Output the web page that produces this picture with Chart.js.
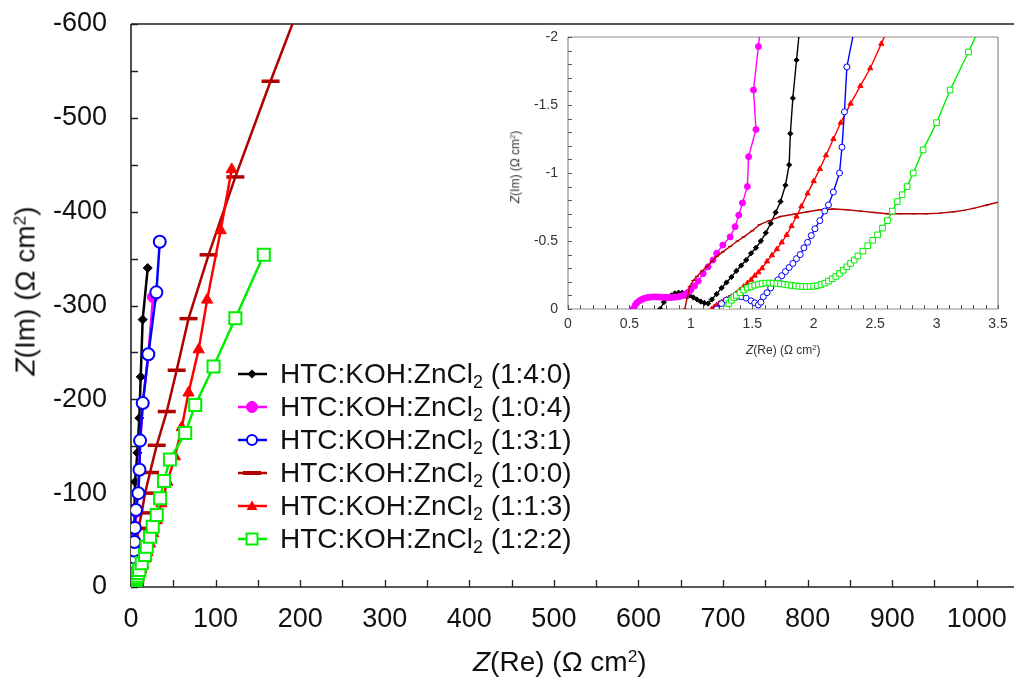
<!DOCTYPE html>
<html>
<head>
<meta charset="utf-8">
<script src="https://cdn.jsdelivr.net/npm/chart.js@4.4.1/dist/chart.umd.min.js"></script>
<style>
  html, body { margin: 0; padding: 0; background: #fff; }
  #wrap { position: relative; width: 1014px; height: 681px; overflow: hidden;
          font-family: "Liberation Sans", Arial, sans-serif; color: #111; }
  #main { position: absolute; left: 0; top: 0; }
  #inset { position: absolute; left: 495px; top: 27px; }
  .ttl { position: absolute; white-space: nowrap; transform-origin: center center; line-height: 1; }
  .ttl sup { font-size: 0.62em; vertical-align: baseline; position: relative; top: -0.5em; }
  #legend { position: absolute; left: 236px; top: 357px; font-size: 28px; }
  .row { height: 33px; display: flex; align-items: center; white-space: nowrap; }
  .row svg { width: 32px; height: 20px; margin-right: 12px; }
  .row sub { font-size: 0.64em; vertical-align: baseline; position: relative; top: 0.3em; }
</style>
</head>
<body>
<div id="wrap">
  <canvas id="main" width="1014" height="681"></canvas>
  <canvas id="inset" width="519" height="310"></canvas>
  <div class="ttl" id="ytitle" style="font-size:28px"><i>Z</i>(Im) (Ω cm<sup>2</sup>)</div>
  <div class="ttl" id="xtitle" style="font-size:28px"><i>Z</i>(Re) (Ω cm<sup>2</sup>)</div>
  <div class="ttl" id="iytitle" style="font-size:12px;color:#333"><i>Z</i>(Im) (Ω cm<sup>2</sup>)</div>
  <div class="ttl" id="ixtitle" style="font-size:12px;color:#333"><i>Z</i>(Re) (Ω cm<sup>2</sup>)</div>
  <div id="legend"></div>
</div>
<script>
// ---- data: Z(Re) and Z(Im) per sample, high frequency first ----
const re140 = [0.75, 0.78, 0.81, 0.84, 0.87, 0.90, 0.93, 0.96, 0.99, 1.02, 1.05, 1.08, 1.11, 1.14, 1.17,
  1.21, 1.25, 1.29, 1.33, 1.37, 1.41, 1.45, 1.49, 1.53, 1.57, 1.61, 1.65, 1.69, 1.73, 1.77,
  1.80, 1.81, 1.83, 1.86, 1.89,
  1.95, 2.05, 2.2, 2.4, 2.6, 2.8, 3.0, 3.2, 3.4, 3.6, 3.8, 4.0, 4.2, 4.4, 4.6, 4.8,
  7.5, 9.8, 11.5, 13.8, 19.8];
const im140 = [0, -0.05, -0.08, -0.10, -0.115, -0.12, -0.12, -0.11, -0.10, -0.085, -0.07, -0.055, -0.045, -0.04, -0.07,
  -0.11, -0.155, -0.195, -0.235, -0.28, -0.32, -0.36, -0.41, -0.45, -0.50, -0.56, -0.63, -0.71, -0.79, -0.91,
  -1.06, -1.29, -1.55, -1.83, -2.1,
  -2.6, -3.3, -4.3, -5.6, -7.2, -9.3, -12, -15.5, -20, -26, -33, -42, -53, -67, -85, -112,
  -143, -180, -224, -285, -340];

const re104 = [0.53, 0.545, 0.56, 0.58, 0.60, 0.62, 0.64, 0.66, 0.68, 0.70, 0.72, 0.74, 0.76, 0.78, 0.80,
  0.82, 0.84, 0.86, 0.88, 0.90, 0.92, 0.94, 0.96, 0.98, 1.00,
  1.03, 1.06, 1.10, 1.14, 1.18, 1.21, 1.26, 1.32, 1.36, 1.39, 1.42, 1.46, 1.47, 1.53, 1.51, 1.55,
  1.60, 1.70, 1.80, 1.90, 2.0,
  2.15, 2.3, 2.5, 2.7, 3.0, 3.3, 3.7, 4.3, 5.0, 6.0, 7.5, 9.5, 11, 14, 20.5, 26];
const im104 = [0, -0.025, -0.045, -0.06, -0.07, -0.078, -0.083, -0.086, -0.088, -0.089, -0.089, -0.088, -0.087, -0.086, -0.085,
  -0.085, -0.085, -0.086, -0.088, -0.09, -0.095, -0.10, -0.11, -0.125, -0.14,
  -0.17, -0.205, -0.26, -0.31, -0.36, -0.41, -0.47, -0.53, -0.605, -0.69, -0.78, -0.90, -1.12, -1.32, -1.61, -1.93,
  -2.4, -3.0, -3.8, -4.8, -6,
  -7.6, -9.6, -12.5, -17, -23, -30, -40, -50, -64, -80, -100, -125, -156, -196, -247, -309];

const re131 = [1.21, 1.25, 1.29, 1.33, 1.37, 1.41, 1.45, 1.49, 1.52, 1.55, 1.57, 1.59, 1.62, 1.65, 1.68,
  1.71, 1.74, 1.77, 1.80, 1.83, 1.86, 1.89, 1.92, 1.95, 1.98, 2.01, 2.05, 2.09, 2.12, 2.16,
  2.21, 2.23, 2.25, 2.27, 2.34,
  2.45, 2.55, 2.65, 2.75, 2.85, 2.95, 3.05, 3.15, 3.3, 3.45, 3.6, 3.8, 4.1, 4.6, 5.9,
  8.7, 10, 10.7, 13.9, 20.5, 30, 34];
const im131 = [0, -0.04, -0.065, -0.08, -0.09, -0.09, -0.08, -0.06, -0.045, -0.03, -0.05, -0.09, -0.12, -0.155, -0.19,
  -0.215, -0.245, -0.275, -0.305, -0.335, -0.37, -0.40, -0.45, -0.49, -0.54, -0.59, -0.65, -0.72, -0.765, -0.86,
  -1.0, -1.19, -1.45, -1.78, -2.1,
  -2.6, -3.4, -4.4, -5.7, -7.3, -9.4, -12, -15.4, -19.7, -25, -31.5, -39, -48, -63, -82,
  -100, -125, -156, -196, -248, -314, -368];

const re100 = [0.95, 0.97, 0.99, 1.02, 1.05, 1.09, 1.13, 1.17, 1.21, 1.26, 1.32, 1.38, 1.43, 1.50, 1.56,
  1.64, 1.73, 1.86, 1.95, 2.05, 2.16, 2.27, 2.38, 2.49, 2.60, 2.70, 2.81, 2.92, 3.03, 3.14,
  3.22, 3.30, 3.41, 3.52,
  3.8, 4.1, 4.4, 4.7, 5.0, 5.3, 5.6, 5.9, 6.3, 6.6, 6.8,
  8.7, 12.7, 16.6, 22.5, 30.4, 42.3, 54, 68, 91.7, 123.4, 165, 215];
const im100 = [0, -0.08, -0.165, -0.21, -0.24, -0.28, -0.31, -0.35, -0.385, -0.42, -0.46, -0.50, -0.53, -0.575, -0.62,
  -0.65, -0.68, -0.70, -0.715, -0.73, -0.735, -0.73, -0.72, -0.71, -0.70, -0.70, -0.70, -0.70, -0.705, -0.715,
  -0.725, -0.74, -0.765, -0.79,
  -0.9, -1.3, -2.0, -3.2, -5, -8, -12.5, -19, -27, -36, -46.6,
  -62.5, -79, -100, -122, -151, -187, -231, -286, -354, -437, -539, -657];

const re113 = [1.17, 1.19, 1.21, 1.23, 1.25, 1.27, 1.29, 1.31, 1.33, 1.35, 1.37,
  1.40, 1.43, 1.46, 1.49, 1.52, 1.55, 1.58, 1.62, 1.66, 1.70, 1.74, 1.78, 1.82, 1.86, 1.90,
  1.95, 2.00, 2.05, 2.10, 2.16, 2.22, 2.30, 2.38, 2.46, 2.55, 2.65,
  3.2, 3.9, 4.7, 5.6, 6.6, 7.8, 9.1, 10.6, 12.3, 14.3, 16.6, 19.3, 22.5, 26.3, 30.6, 36, 43, 52, 60, 68,
  80, 90, 106, 119];
const im113 = [0, -0.015, -0.028, -0.04, -0.05, -0.06, -0.07, -0.08, -0.09, -0.10, -0.115,
  -0.14, -0.165, -0.19, -0.215, -0.245, -0.27, -0.30, -0.35, -0.395, -0.44, -0.49, -0.545, -0.61, -0.68, -0.755,
  -0.85, -0.94, -1.03, -1.13, -1.25, -1.37, -1.51, -1.64, -1.77, -1.95, -2.15,
  -2.8, -3.6, -4.6, -5.9, -7.5, -9.5, -12, -15, -19, -24, -30, -37, -46, -57, -71, -89, -112, -139, -170, -207,
  -253, -306, -380, -445];

const re122 = [1.29, 1.31, 1.33, 1.35, 1.37, 1.40, 1.43, 1.46, 1.49, 1.52, 1.55, 1.58, 1.61, 1.64, 1.67,
  1.70, 1.73, 1.76, 1.79, 1.82, 1.85, 1.88, 1.91, 1.94, 1.97, 2.00, 2.03, 2.06, 2.09, 2.12,
  2.15, 2.18, 2.21, 2.24, 2.27, 2.30, 2.33, 2.36, 2.40, 2.44, 2.48, 2.52, 2.56, 2.60, 2.64,
  2.68, 2.72, 2.76, 2.81, 2.89, 3.00, 3.11, 3.26, 3.42,
  3.7, 4.0, 4.4, 4.9, 5.5, 6.2, 7.0, 8.3, 9.8, 12.7, 16.6, 18.6, 22.5, 25.7, 30.4, 34.4, 39, 46,
  64.1, 75.9, 97.6, 123.4, 157];
const im122 = [0, -0.04, -0.065, -0.085, -0.10, -0.12, -0.14, -0.155, -0.165, -0.175, -0.182, -0.187, -0.19, -0.191, -0.19,
  -0.188, -0.185, -0.181, -0.177, -0.173, -0.17, -0.167, -0.166, -0.165, -0.166, -0.168, -0.172, -0.18, -0.19, -0.205,
  -0.222, -0.24, -0.262, -0.285, -0.31, -0.335, -0.36, -0.39, -0.425, -0.465, -0.505, -0.545, -0.595, -0.65, -0.72,
  -0.79, -0.84, -0.90, -1.0, -1.17, -1.37, -1.61, -1.89, -2.2,
  -2.8, -3.6, -4.6, -5.9, -7.5, -9.5, -12, -14.8, -18.1, -25.2, -34.1, -42.9, -53.6, -64.3, -76.8, -94.6, -113, -136,
  -164, -194, -235, -286.5, -354];

// tick labels
const mainXTicks = [0, 100, 200, 300, 400, 500, 600, 700, 800, 900, 1000];
const mainYTicks = [-600, -500, -400, -300, -200, -100, 0];
const insetXTicks = [0, 0.5, 1, 1.5, 2, 2.5, 3, 3.5];
const insetYTicks = [-2, -1.5, -1, -0.5, 0];

const FONT = "'Liberation Sans', Arial, sans-serif";

// series styles (legend order)
const series = [
  { ratio: "1:4:0", re: re140, im: im140, color: "#000000", fill: "#000000", style: "rectRot",
    r: 4.5, bw: 1, ir: 2.6, ibw: 1, order: 5 },
  { ratio: "1:0:4", re: re104, im: im104, color: "#ff00ff", fill: "#ff00ff", style: "circle",
    r: 5.5, bw: 1, ir: 3, ibw: 1, order: 4 },
  { ratio: "1:3:1", re: re131, im: im131, color: "#0000ff", fill: "#ffffff", style: "circle",
    r: 6, bw: 2, ir: 3, ibw: 1, order: 1 },
  { ratio: "1:0:0", re: re100, im: im100, color: "#b00000", fill: "#b00000", style: "line",
    r: 9, bw: 3.5, ir: 2, ibw: 1.2, order: 3 },
  { ratio: "1:1:3", re: re113, im: im113, color: "#ff0000", fill: "#ff0000", style: "triangle",
    r: 6.5, bw: 1, ir: 3, ibw: 1, order: 2 },
  { ratio: "1:2:2", re: re122, im: im122, color: "#00ee00", fill: "#ffffff", style: "rect",
    r: 8.5, bw: 2, ir: 4, ibw: 1, order: 0 }
];

// frame + inward tick marks
const frameTicks = {
  id: "frameTicks",
  beforeDatasetsDraw(chart, args, o) {
    const { ctx, chartArea: a, scales } = chart;
    ctx.save();
    ctx.strokeStyle = o.color;
    ctx.lineWidth = o.width;
    ctx.beginPath();
    if (o.sides.includes("t")) { ctx.moveTo(a.left, a.top); ctx.lineTo(a.right, a.top); }
    if (o.sides.includes("r")) { ctx.moveTo(a.right, a.top); ctx.lineTo(a.right, a.bottom); }
    if (o.sides.includes("b")) { ctx.moveTo(a.left, a.bottom); ctx.lineTo(a.right, a.bottom); }
    if (o.sides.includes("l")) { ctx.moveTo(a.left, a.top); ctx.lineTo(a.left, a.bottom); }
    ctx.stroke();
    ctx.strokeStyle = o.tickColor;
    ctx.lineWidth = o.tickWidth;
    ctx.beginPath();
    for (let v = scales.x.min; v <= scales.x.max + 1e-9; v += o.xStep) {
      const px = Math.round(scales.x.getPixelForValue(v)) + 0.5;
      ctx.moveTo(px, a.bottom);
      ctx.lineTo(px, a.bottom - o.len);
    }
    for (let v = scales.y.min; v <= scales.y.max + 1e-9; v += o.yStep) {
      const py = Math.round(scales.y.getPixelForValue(v)) + 0.5;
      ctx.moveTo(a.left, py);
      ctx.lineTo(a.left + o.len, py);
    }
    ctx.stroke();
    ctx.restore();
  }
};

function makeDatasets(inset) {
  return series.map(s => ({
    label: "HTC:KOH:ZnCl2 (" + s.ratio + ")",
    data: s.re.map((x, i) => ({ x: x, y: s.im[i] })),
    showLine: true,
    borderColor: s.color,
    borderWidth: inset ? 1.4 : 2.5,
    pointStyle: s.style,
    pointRadius: inset ? s.ir : s.r,
    pointBorderWidth: inset ? s.ibw : s.bw,
    pointBorderColor: s.color,
    pointBackgroundColor: s.fill,
    order: s.order
  }));
}

function fixedTicks(list) {
  return scale => { scale.ticks = list.map(v => ({ value: v })); };
}

// pin the axis box sizes so the plot area lands where the reference has it
function fitX(h) {
  return s => { s.height = h; s.paddingLeft = 0; s.paddingRight = 0; };
}
function fitY(w) {
  return s => { s.width = w; s.paddingTop = 0; s.paddingBottom = 0; };
}
const plain = v => String(v);

new Chart(document.getElementById("main"), {
  type: "scatter",
  data: { datasets: makeDatasets(false) },
  options: {
    responsive: false,
    animation: false,
    events: [],
    layout: { autoPadding: false, padding: { top: 24, right: 0, left: 0, bottom: 0 } },
    plugins: {
      legend: { display: false },
      tooltip: { enabled: false },
      frameTicks: { sides: "tlb", color: "#222", width: 1.6, tickColor: "#222", tickWidth: 1.3,
                    len: 7, xStep: 50, yStep: 50 }
    },
    scales: {
      x: {
        type: "linear", min: 0, max: 1044,
        afterBuildTicks: fixedTicks(mainXTicks),
        afterFit: fitX(94),
        grid: { display: false, drawTicks: false },
        border: { display: false },
        ticks: { font: { family: FONT, size: 27 }, color: "#111", padding: 16, maxRotation: 0,
                 autoSkip: false, callback: plain }
      },
      y: {
        type: "linear", min: -600, max: 0, reverse: true,
        afterBuildTicks: fixedTicks(mainYTicks),
        afterFit: fitY(131),
        grid: { display: false, drawTicks: false },
        border: { display: false },
        ticks: { font: { family: FONT, size: 27 }, color: "#111", padding: 24, autoSkip: false, callback: plain }
      }
    }
  },
  plugins: [frameTicks]
});

new Chart(document.getElementById("inset"), {
  type: "scatter",
  data: { datasets: makeDatasets(true) },
  options: {
    responsive: false,
    animation: false,
    events: [],
    layout: { autoPadding: false, padding: { top: 10, right: 16, left: 0, bottom: 0 } },
    plugins: {
      legend: { display: false },
      tooltip: { enabled: false },
      frameTicks: { sides: "tlbr", color: "#8c8c8c", width: 1.2, tickColor: "#555", tickWidth: 1,
                    len: 4, xStep: 0.1, yStep: 0.1 }
    },
    scales: {
      x: {
        type: "linear", min: 0, max: 3.5,
        afterBuildTicks: fixedTicks(insetXTicks),
        afterFit: fitX(28),
        grid: { display: false, drawTicks: false },
        border: { display: false },
        ticks: { font: { family: FONT, size: 14 }, color: "#333", padding: 7, maxRotation: 0,
                 autoSkip: false, callback: plain }
      },
      y: {
        type: "linear", min: -2, max: 0, reverse: true,
        afterBuildTicks: fixedTicks(insetYTicks),
        afterFit: fitY(73),
        grid: { display: false, drawTicks: false },
        border: { display: false },
        ticks: { font: { family: FONT, size: 14 }, color: "#333", padding: 10, autoSkip: false, callback: plain }
      }
    }
  },
  plugins: [frameTicks]
});

// axis titles
function place(id, cx, cy, rot) {
  const el = document.getElementById(id);
  el.style.left = (cx - el.offsetWidth / 2) + "px";
  el.style.top = (cy - el.offsetHeight / 2) + "px";
  if (rot) el.style.transform = "rotate(-90deg)";
}
place("ytitle", 25, 291, true);
place("xtitle", 560, 662, false);
place("iytitle", 515, 167, true);
place("ixtitle", 783, 350, false);

// legend
function marker(s) {
  const c = s.color;
  let m = "";
  if (s.style === "rectRot") m = `<polygon points="16,5.5 20.5,10 16,14.5 11.5,10" fill="${c}"/>`;
  if (s.style === "circle") m = `<circle cx="16" cy="10" r="${s.bw > 1 ? 5 : 5.5}" fill="${s.fill}" stroke="${c}" stroke-width="${s.bw}"/>`;
  if (s.style === "line") m = `<rect x="7" y="8" width="18" height="4" fill="${c}"/>`;
  if (s.style === "triangle") m = `<polygon points="16,4.5 21.5,14 10.5,14" fill="${c}"/>`;
  if (s.style === "rect") m = `<rect x="10.5" y="4.5" width="11" height="11" fill="#fff" stroke="${c}" stroke-width="2"/>`;
  return `<svg viewBox="0 0 32 20"><line x1="2" y1="10" x2="31" y2="10" stroke="${c}" stroke-width="2.5"/>${m}</svg>`;
}
document.getElementById("legend").innerHTML = series.map(s =>
  `<div class="row">${marker(s)}<span>HTC:KOH:ZnCl<sub>2</sub> (${s.ratio})</span></div>`
).join("");
</script>
</body>
</html>
